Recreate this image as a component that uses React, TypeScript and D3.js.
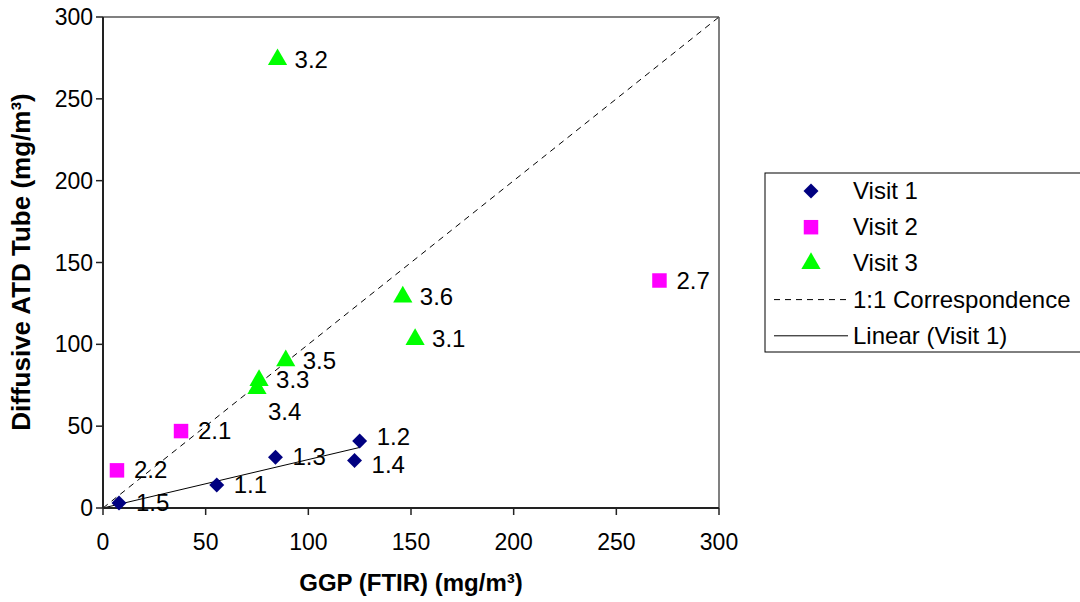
import React from "react";
import * as d3 from "d3";

const visit1X = [55.4, 125, 84, 122.5, 7.8];
const visit1Y = [14, 41, 31, 29, 3];
const visit1Labels = ["1.1", "1.2", "1.3", "1.4", "1.5"];

const visit2X = [38, 6.8, 271];
const visit2Y = [47, 23, 139];
const visit2Labels = ["2.1", "2.2", "2.7"];

const visit3X = [152, 85, 76, 75, 89, 146];
const visit3Y = [103, 274, 78, 73, 90, 129];
const visit3Labels = ["3.1", "3.2", "3.3", "3.4", "3.5", "3.6"];

const xTicks = [0, 50, 100, 150, 200, 250, 300];
const yTicks = [0, 50, 100, 150, 200, 250, 300];

const legendItems = ["Visit 1", "Visit 2", "Visit 3", "1:1 Correspondence", "Linear (Visit 1)"];

const W = 1080;
const H = 602;
const FONT = "'Liberation Sans', Arial, sans-serif";

export default function App() {
  const x = d3.scaleLinear().domain([0, 300]).range([103, 719]);
  const y = d3.scaleLinear().domain([0, 300]).range([508, 17]);

  // linear trend through origin for Visit 1
  const sxy = d3.sum(visit1X.map((v, i) => v * visit1Y[i]));
  const sxx = d3.sum(visit1X.map((v) => v * v));
  const slope = sxy / sxx;
  const xMax = d3.max(visit1X) as number;

  const diamond = d3.symbol().type(d3.symbolSquare).size(112)() as string;
  const square = d3.symbol().type(d3.symbolSquare).size(210)() as string;
  const triangle = d3.symbol().type(d3.symbolTriangle).size(160)() as string;

  const labelOffsets: Record<string, [number, number]> = {
    "3.4": [11, 31],
    "1.2": [17, 4],
    "1.4": [17, 12],
  };

  const renderLabel = (lab: string, px: number, py: number) => {
    const off = labelOffsets[lab] || [17, 8];
    return (
      <text x={px + off[0]} y={py + off[1]} fontSize={24} fill="#000" fontFamily={FONT}>
        {lab}
      </text>
    );
  };

  const lx = 765;
  const ly = 173;
  const rowH = 36.2;

  return (
    <svg width={W} height={H} style={{ position: "absolute", left: 0, top: 0 }}>
      <rect width={W} height={H} fill="#fff" />
      {/* plot border */}
      <line x1={103} x2={719} y1={17} y2={17} stroke="#808080" strokeWidth={2} />
      <line x1={719} x2={719} y1={17} y2={508} stroke="#808080" strokeWidth={2} />
      {/* 1:1 line */}
      <line x1={x(0)} y1={y(0)} x2={x(300)} y2={y(300)} stroke="#000" strokeWidth={1} strokeDasharray="6,5" />
      {/* trend line */}
      <line x1={x(0)} y1={y(0)} x2={x(xMax)} y2={y(slope * xMax)} stroke="#000" strokeWidth={1} />
      {/* axes */}
      <line x1={103} x2={103} y1={17} y2={508} stroke="#222" strokeWidth={2} />
      <line x1={103} x2={719} y1={508} y2={508} stroke="#222" strokeWidth={2} />
      {yTicks.map((t) => (
        <g key={"y" + t}>
          <line x1={96} x2={103} y1={y(t)} y2={y(t)} stroke="#222" strokeWidth={1.5} />
          <text x={93} y={y(t) + 8} textAnchor="end" fontSize={23} fontFamily={FONT} fill="#000">
            {t}
          </text>
        </g>
      ))}
      {xTicks.map((t) => (
        <g key={"x" + t}>
          <line x1={x(t)} x2={x(t)} y1={508} y2={515} stroke="#222" strokeWidth={1.5} />
          <text x={x(t)} y={550} textAnchor="middle" fontSize={23} fontFamily={FONT} fill="#000">
            {t}
          </text>
        </g>
      ))}
      {/* titles */}
      <text x={411} y={591} textAnchor="middle" fontSize={24} fontWeight="bold" fontFamily={FONT} fill="#000">
        GGP (FTIR) (mg/m³)
      </text>
      <text
        transform={`translate(30,262) rotate(-90)`}
        textAnchor="middle"
        fontSize={26}
        fontWeight="bold"
        fontFamily={FONT}
        fill="#000"
      >
        Diffusive ATD Tube (mg/m³)
      </text>
      {/* Visit 1 */}
      {visit1X.map((v, i) => (
        <g key={"v1" + i}>
          <path d={diamond} transform={`translate(${x(v)},${y(visit1Y[i])}) rotate(45)`} fill="#000080" />
          {renderLabel(visit1Labels[i], x(v), y(visit1Y[i]))}
        </g>
      ))}
      {/* Visit 2 */}
      {visit2X.map((v, i) => (
        <g key={"v2" + i}>
          <path d={square} transform={`translate(${x(v)},${y(visit2Y[i])})`} fill="#ff00ff" />
          {renderLabel(visit2Labels[i], x(v), y(visit2Y[i]))}
        </g>
      ))}
      {/* Visit 3 */}
      {visit3X.map((v, i) => (
        <g key={"v3" + i}>
          <path d={triangle} transform={`translate(${x(v)},${y(visit3Y[i])})`} fill="#00ff00" />
          {renderLabel(visit3Labels[i], x(v), y(visit3Y[i]))}
        </g>
      ))}
      {/* legend */}
      <rect x={lx} y={ly} width={330} height={179} fill="#fff" stroke="#000" strokeWidth={1} />
      {legendItems.map((item, i) => {
        const cy = ly + 18 + i * rowH;
        let mark: React.ReactNode = null;
        if (i === 0) mark = <path d={diamond} transform={`translate(811,${cy}) rotate(45)`} fill="#000080" />;
        if (i === 1) mark = <path d={square} transform={`translate(811,${cy})`} fill="#ff00ff" />;
        if (i === 2) mark = <path d={triangle} transform={`translate(811,${cy})`} fill="#00ff00" />;
        if (i === 3) mark = <line x1={774} x2={848} y1={cy} y2={cy} stroke="#000" strokeDasharray="6,5" />;
        if (i === 4) mark = <line x1={774} x2={848} y1={cy} y2={cy} stroke="#000" />;
        return (
          <g key={"lg" + i}>
            {mark}
            <text x={853} y={cy + 8} fontSize={24} fontFamily={FONT} fill="#000">
              {item}
            </text>
          </g>
        );
      })}
    </svg>
  );
}
